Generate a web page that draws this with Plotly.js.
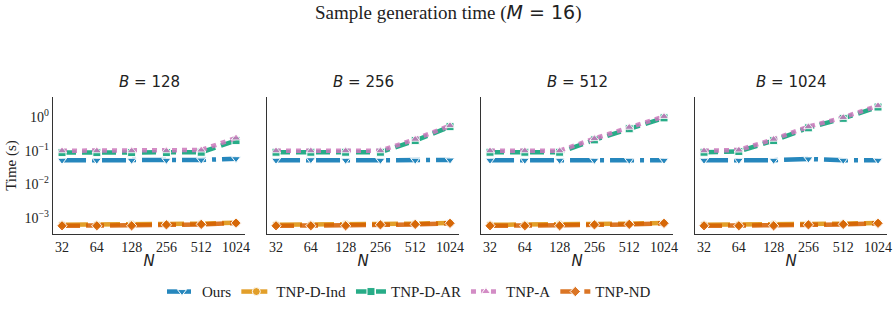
<!DOCTYPE html>
<html><head><meta charset="utf-8">
<script src="https://cdn.plot.ly/plotly-3.0.1.min.js"></script>
<style>body{margin:0;background:#fff}</style></head>
<body><div id="chart" style="width:895px;height:313px"></div>
<script>
const N = [32, 64, 128, 256, 512, 1024];
const B = [128, 256, 512, 1024];
const methods = ["Ours", "TNP-D-Ind", "TNP-D-AR", "TNP-A", "TNP-ND"];
// Times (s) per batch size B, per method
const ours   = [[0.052,0.052,0.052,0.052,0.053,0.058],[0.052,0.054,0.052,0.052,0.052,0.053],[0.052,0.052,0.052,0.052,0.052,0.052],[0.052,0.052,0.052,0.057,0.052,0.052]];
const tnpDInd= [[0.00062,0.00062,0.00063,0.00066,0.00067,0.00072],[0.00062,0.00062,0.00063,0.00066,0.00067,0.00071],[0.00062,0.00062,0.00063,0.00066,0.00067,0.00071],[0.00062,0.00062,0.00063,0.00066,0.00067,0.00071]];
const tnpDAR = [[0.088,0.088,0.088,0.088,0.09,0.2],[0.09,0.09,0.09,0.09,0.2,0.52],[0.09,0.09,0.09,0.21,0.45,0.95],[0.09,0.095,0.2,0.48,0.92,2.0]];
const tnpA   = [[0.1,0.1,0.1,0.1,0.105,0.24],[0.1,0.1,0.1,0.1,0.22,0.56],[0.1,0.1,0.1,0.23,0.5,1.05],[0.1,0.105,0.22,0.52,0.98,2.2]];
const tnpND  = [[0.00058,0.00058,0.00058,0.00062,0.00064,0.0007],[0.00058,0.00058,0.00058,0.00062,0.00064,0.00069],[0.00058,0.00058,0.00058,0.00062,0.00064,0.00069],[0.00058,0.00058,0.00058,0.00062,0.00064,0.00069]];
const yTickVals = [0.001, 0.01, 0.1, 1];
const yTickText = ["10<sup>−3</sup>", "10<sup>−2</sup>", "10<sup>−1</sup>", "10<sup>0</sup>"];

const series = [ours, tnpDInd, tnpDAR, tnpA, tnpND];
const colors = ["#0173b2", "#de8f05", "#029e73", "#cc78bc", "#d55e00"];
const dashes = ["24px,6px,4px,6px", "26px,6px", "14px,6px", "5px,5px", "18px,6px"];
const symbols = ["triangle-down", "circle", "square", "triangle-up", "diamond"];

const serif = "Liberation Serif, DejaVu Serif, serif";
const sans = "DejaVu Sans, sans-serif";
const traces = [];
const xd = [[53,245],[267,459],[481,673],[695,887]];
const layout = {
  width: 895, height: 313, margin: {l:0, r:0, t:0, b:0},
  paper_bgcolor: "#fff", plot_bgcolor: "#fff",
  showlegend: true,
  legend: {orientation: "h", x: 409/895, xanchor: "center", y: 0.015, yanchor: "bottom",
           font: {family: serif, size: 15, color: "#222"}, itemwidth: 30, tracegroupgap: 0},
  annotations: [
    {text: "Sample generation time (<span style=\"font-family:DejaVu Sans\"><i>M</i> = 16</span>)", xref: "paper", yref: "paper", x: 0.5, y: 1 - 13/313,
     showarrow: false, font: {family: serif, size: 19, color: "#222"}, xanchor: "center", yanchor: "middle"}
  ]
};
B.forEach((b, i) => {
  const xa = i === 0 ? "x" : "x" + (i + 1);
  const ya = i === 0 ? "y" : "y" + (i + 1);
  const xk = i === 0 ? "xaxis" : "xaxis" + (i + 1);
  const yk = i === 0 ? "yaxis" : "yaxis" + (i + 1);
  layout[xk] = {
    domain: [xd[i][0]/895, xd[i][1]/895], anchor: ya, type: "log",
    range: [1.427, 3.088], tickvals: N, ticktext: N.map(String),
    showgrid: false, zeroline: false, showline: true, linecolor: "#333", linewidth: 1.3,
    ticks: "", tickfont: {family: serif, size: 14, color: "#222"},
    title: {text: "<i>N</i>", font: {family: sans, size: 15, color: "#222"}, standoff: 1}
  };
  const yax = {
    domain: [(313-234)/313, (313-97)/313], anchor: xa, type: "log",
    range: [-3.48, 0.6], tickvals: yTickVals, ticktext: yTickText,
    showticklabels: i === 0,
    showgrid: false, zeroline: false, showline: true, linecolor: "#333", linewidth: 1.3,
    ticks: "", tickfont: {family: serif, size: 14, color: "#222"}
  };
  if (i === 0) yax.title = {text: "Time (s)", font: {family: serif, size: 15, color: "#222"}, standoff: 4};
  layout[yk] = yax;
  layout.annotations.push({text: "<i>B</i> = " + b, xref: "paper", yref: "paper",
    x: (xd[i][0] + xd[i][1]) / 2 / 895, y: 1 - 82/313, showarrow: false,
    font: {family: sans, size: 15, color: "#222"}, xanchor: "center", yanchor: "middle"});
  methods.forEach((m, k) => {
    traces.push({
      x: N, y: series[k][i], xaxis: xa, yaxis: ya, name: m, legendgroup: m,
      showlegend: i === 0, mode: "lines+markers", opacity: 0.85,
      line: {color: colors[k], width: 4.5, dash: dashes[k]},
      marker: {symbol: symbols[k], size: 8, color: colors[k], line: {color: "#fff", width: 1}}
    });
  });
});
Plotly.newPlot("chart", traces, layout, {staticPlot: true});
</script></body></html>
